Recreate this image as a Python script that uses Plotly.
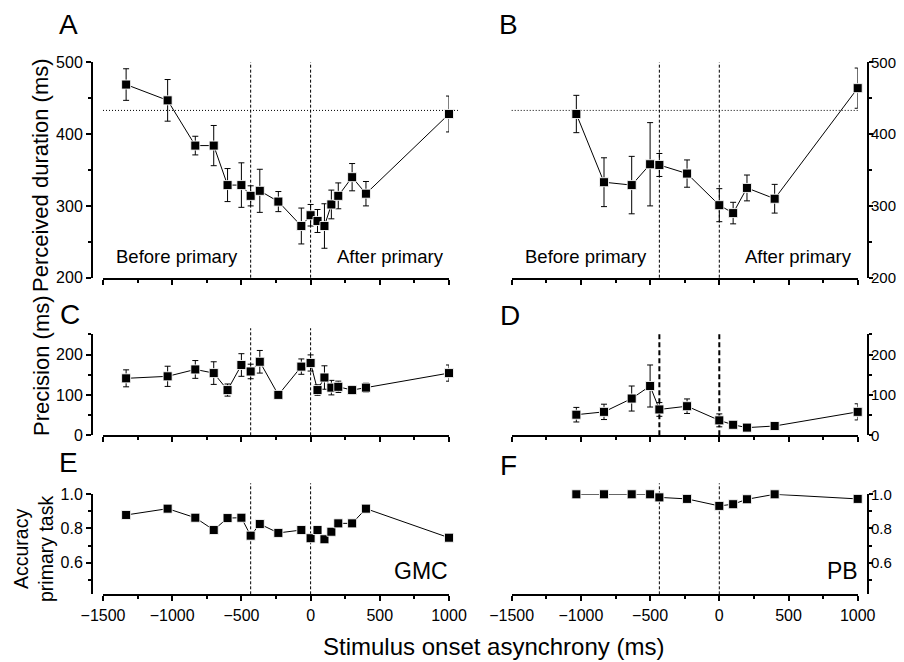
import plotly.graph_objects as go

# reference canvas is 904x662; the page body adds an 8px margin, so the figure is drawn 8px smaller
REF_W, REF_H, OFF = 904, 662, 8
W, H = REF_W - OFF, REF_H - OFF
FONT = "Liberation Sans, Arial, sans-serif"

# ---- data ----
gmc_soa = [-1333, -1033, -833, -700, -600, -500, -433, -367, -233, -67, 0, 50, 100, 150, 200, 300, 400, 1000]
gmc_dur = [469, 447, 384, 384, 329, 329, 314, 321, 306, 272, 287, 279, 272, 302, 314, 340, 317, 428]
gmc_dur_err = [22, 29, 13, 28, 23, 31, 14, 30, 14, 25, 15, 16, 31, 20, 18, 19, 17, 25]
gmc_prec = [141, 146, 163, 154, 112, 174, 158, 182, 100, 170, 179, 112, 143, 118, 120, 112, 118, 154]
gmc_prec_err = [21, 25, 22, 28, 15, 28, 18, 28, 5, 19, 20, 13, 29, 18, 14, 10, 11, 20]
gmc_acc = [0.879, 0.916, 0.863, 0.791, 0.861, 0.863, 0.758, 0.826, 0.774, 0.791, 0.743,
           0.791, 0.737, 0.781, 0.830, 0.830, 0.916, 0.746]

pb_soa = [-1033, -833, -633, -500, -433, -233, 0, 100, 200, 400, 1000]
pb_dur = [428, 333, 329, 358, 357, 345, 301, 290, 325, 310, 464]
pb_dur_err = [26, 34, 40, 58, 16, 19, 23, 15, 18, 20, 28]
pb_prec = [51, 58, 91, 122, 64, 72, 37, 26, 19, 23, 58]
pb_prec_err = [18, 19, 31, 52, 17, 18, 16, 4, 3, 4, 20]
pb_acc = [1.0, 1.0, 1.0, 1.0, 0.982, 0.973, 0.932, 0.942, 0.971, 1.0, 0.973]

primary_duration = 433
x_ticks = [-1500, -1000, -500, 0, 500, 1000]


def fx(x):
    return (x - OFF) / W


def fy(y):
    return 1 - (y - OFF) / H


def ydom(top, bottom):
    return [fy(bottom), fy(top)]


xL = [fx(103), fx(449)]
xR = [fx(511.7), fx(857.7)]
rowA = ydom(62.3, 277.7)
rowC = ydom(334.3, 435.3)
rowE = ydom(494.3, 594.3)

# (index, soa, values, errors, xdomain, ydomain, yrange, side, ytickvals, ytext, minor dtick, dashed line top)
panels = [
    (1, gmc_soa, gmc_dur, gmc_dur_err, xL, rowA, [200, 500], "left", [200, 300, 400, 500], None, 50, 1.0),
    (2, pb_soa, pb_dur, pb_dur_err, xR, rowA, [200, 500], "right", [200, 300, 400, 500], None, 50, 1.0),
    (3, gmc_soa, gmc_prec, gmc_prec_err, xL, rowC, [0, 250], "left", [0, 100, 200], None, 50, 1.06),
    (4, pb_soa, pb_prec, pb_prec_err, xR, rowC, [0, 250], "right", [0, 100, 200], None, 50, 1.02),
    (5, gmc_soa, gmc_acc, None, xL, rowE, [0.415, 1.0], "left", [0.6, 0.8, 1.0], ["0.6", "0.8", "1.0"], 0.1, 1.11),
    (6, pb_soa, pb_acc, None, xR, rowE, [0.415, 1.0], "right", [0.6, 0.8, 1.0], ["0.6", "0.8", "1.0"], 0.1, 1.11),
]

fig = go.Figure()
shapes = []
layout = {}

for i, soa, vals, errs, xd, yd, yr, side, ytv, ytt, ymin, dtop in panels:
    sfx = "" if i == 1 else str(i)
    err = None
    if errs is not None:
        err = dict(type="data", array=errs, color="black", thickness=1, width=3)
    fig.add_trace(go.Scatter(
        x=soa, y=vals, error_y=err, mode="lines+markers", cliponaxis=False,
        line=dict(color="black", width=1),
        marker=dict(symbol="square", size=9, color="black",
                    line=dict(color="rgba(255,255,255,0.85)", width=1)),
        xaxis="x" + sfx, yaxis="y" + sfx, showlegend=False,
    ))
    layout["xaxis" + sfx] = dict(
        domain=xd, range=[-1500, 1000], anchor="y" + sfx, automargin=False,
        showline=True, linewidth=2, linecolor="black",
        ticks="outside", ticklen=5, tickwidth=1.5, tickcolor="black",
        tickvals=x_ticks, showticklabels=i in (5, 6),
        minor=dict(dtick=250, tick0=-1500, ticks="outside", ticklen=3, tickcolor="black"),
        showgrid=False, zeroline=False,
        tickfont=dict(family=FONT, size=16, color="black"),
    )
    right = side == "right"
    layout["yaxis" + sfx] = dict(
        domain=yd, range=yr, anchor="free", automargin=False,
        position=fx(868) if right else fx(92), side=side,
        showline=True, linewidth=2, linecolor="black",
        ticks="outside", ticklen=4 if right else 5, tickwidth=1.5, tickcolor="black",
        tickvals=ytv, ticktext=ytt,
        ticklabelstandoff=-5 if right else 0,
        minor=dict(dtick=ymin, ticks="outside", ticklen=3, tickcolor="black"),
        showgrid=False, zeroline=False,
        tickfont=dict(family=FONT, size=15 if right else 16, color="black"),
    )
    heavy = i == 4
    for xv in (-primary_duration, 0):
        shapes.append(dict(
            type="line", xref="x" + sfx, yref="y" + sfx + " domain",
            x0=xv, x1=xv, y0=0, y1=dtop, layer="below",
            line=dict(color="black", width=2 if heavy else 1,
                      dash="5px,3px" if heavy else "3px,2px"),
        ))

# horizontal dotted line at the primary duration
shapes.append(dict(type="line", xref="x domain", yref="y", x0=0, x1=1.03,
                   y0=primary_duration, y1=primary_duration, layer="below",
                   line=dict(color="black", width=1, dash="1px,2px")))
shapes.append(dict(type="line", xref="x2 domain", yref="y2", x0=0, x1=1,
                   y0=primary_duration, y1=primary_duration, layer="below",
                   line=dict(color="black", width=1, dash="1px,2px")))


def txt(text, x, y, size, angle=0):
    return dict(text=text, x=fx(x), y=fy(y), xref="paper", yref="paper",
                showarrow=False, textangle=angle, xanchor="center", yanchor="middle",
                font=dict(family=FONT, size=size, color="black"))


annotations = [
    txt("A", 69, 25, 28), txt("B", 508, 25, 28),
    txt("C", 70, 314, 28), txt("D", 510, 315, 28),
    txt("E", 69, 462, 28), txt("F", 508, 465, 28),
    txt("Before primary", 177, 256, 18.5), txt("After primary", 390, 256, 18.5),
    txt("Before primary", 586, 256, 18.5), txt("After primary", 798, 256, 18.5),
    txt("GMC", 421, 571, 23), txt("PB", 842, 571, 23),
    txt("Perceived duration (ms)", 40, 175, 22, -90),
    txt("Precision (ms)", 41, 366, 22, -90),
    txt("Accuracy<br>primary task", 33, 549, 19.5, -90),
    txt("Stimulus onset asynchrony (ms)", 493, 646, 24),
]

fig.update_layout(
    width=W, height=H, margin=dict(l=0, r=0, t=0, b=0, pad=0, autoexpand=False),
    paper_bgcolor="white", plot_bgcolor="white",
    shapes=shapes, annotations=annotations,
    font=dict(family=FONT, color="black"),
    **layout,
)

fig.write_html("out.html")
